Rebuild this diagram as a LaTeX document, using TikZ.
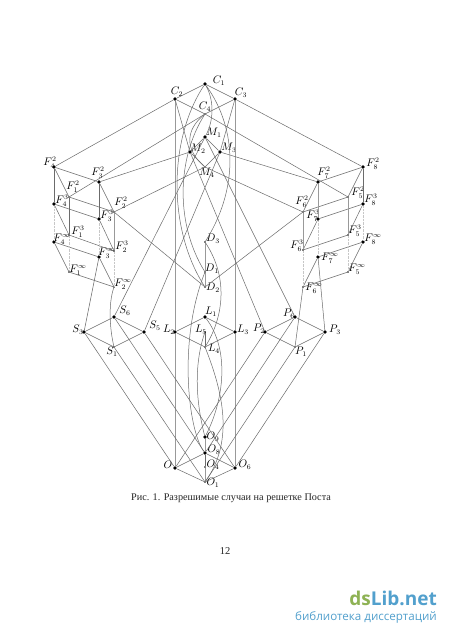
\documentclass[tikz,border=0pt]{standalone}
\usepackage{fontspec}
\newfontfamily\capfont{Liberation Serif}
\newfontfamily\logofont{Open Sans}
\definecolor{logogreen}{RGB}{142,178,84}
\definecolor{logoblue}{RGB}{82,160,205}
\tikzset{
  bigdot/.style={circle,fill=black,inner sep=0pt,minimum size=3.8pt},
  smalldot/.style={circle,fill=black,inner sep=0pt,minimum size=1.6pt},
  lab/.style={inner sep=0pt,font=\fontsize{10.5}{12}\selectfont},
  thin line/.style={line width=.5pt,black!58},
  heavy/.style={line width=1pt,black!40},
  faint/.style={line width=.4pt,black!22,densely dotted},
}
\newcommand{\B}[6]{\node[bigdot] (#1) at (#2,#3) {}; \node[lab] (#1lab) at (#4,#5) {$#6$};}
\newcommand{\Sm}[6]{\node[smalldot] (#1) at (#2,#3) {}; \node[lab] (#1lab) at (#4,#5) {$#6$};}
\begin{document}
\begin{tikzpicture}[x=1pt,y=-1pt]
\useasboundingbox (0,0) rectangle (450,636);
\fill[white] (0,0) rectangle (450,636);
% nodes
\B{C1}{205}{84}{219}{81}{C_1}
\B{C2}{175}{99}{177}{92}{C_2}
\B{C3}{235}{99}{241}{93}{C_3}
\Sm{C4}{205}{114}{205}{107}{C_4}
\B{M1}{205}{137}{214}{133}{M_1}
\B{M2}{190}{152}{198}{149}{M_2}
\B{M3}{220}{152}{229}{148}{M_3}
\Sm{M4}{205}{167}{207}{173}{M_4}
% left F
\B{F42}{54}{167}{50}{163}{F_4^2}
\B{F32}{99}{182}{98}{173}{F_3^2}
\Sm{F12}{69}{197}{73}{187}{F_1^2}
\Sm{F22}{114}{212}{121}{203}{F_2^2}
\B{F43}{54}{204}{62}{201}{F_4^3}
\B{F33}{99}{219}{107}{216}{F_3^3}
\Sm{F13}{69}{235}{78}{232}{F_1^3}
\Sm{F23}{114}{251}{122}{247}{F_2^3}
\B{F4i}{54}{242}{62}{239}{F_4^\infty}
\B{F3i}{99}{257}{107}{253}{F_3^\infty}
\Sm{F1i}{69}{272}{78}{270}{F_1^\infty}
\Sm{F2i}{114}{287}{123}{284}{F_2^\infty}
% right F
\B{F82}{363}{167}{373}{164}{F_8^2}
\B{F72}{318}{182}{324}{173}{F_7^2}
\Sm{F52}{348}{197}{358}{193}{F_5^2}
\Sm{F62}{303}{212}{302}{202}{F_6^2}
\B{F83}{363}{204}{371}{200}{F_8^3}
\B{F73}{318}{219}{313}{216}{F_7^3}
\Sm{F53}{348}{235}{355}{231}{F_5^3}
\Sm{F63}{303}{250}{297}{246}{F_6^3}
\B{F8i}{363}{242}{373}{239}{F_8^\infty}
\B{F7i}{318}{257}{330}{258}{F_7^\infty}
\Sm{F5i}{348}{272}{357}{269}{F_5^\infty}
\Sm{F6i}{303}{287}{314}{288}{F_6^\infty}
% D
\Sm{D3}{205}{242}{213}{239}{D_3}
\Sm{D1}{205}{272}{212}{269}{D_1}
\Sm{D2}{205}{287}{213}{288}{D_2}
% S
\B{S6}{114}{317}{125}{311}{S_6}
\B{S3}{84}{332}{78}{330}{S_3}
\B{S5}{144}{332}{155}{326}{S_5}
\Sm{S1}{114}{347}{112}{352}{S_1}
% L
\B{L1}{205}{317}{211}{312}{L_1}
\B{L2}{175}{332}{169}{330}{L_2}
\B{L3}{235}{332}{243}{330}{L_3}
\Sm{L5}{205}{332}{201}{330}{L_5}
\Sm{L4}{205}{347}{214}{349}{L_4}
% P
\B{P6}{295}{317}{289}{314}{P_6}
\B{P2}{265}{332}{259}{329}{P_2}
\B{P3}{325}{332}{335}{330}{P_3}
\Sm{P1}{295}{347}{301}{352}{P_1}
% O
\B{O9}{205}{437}{213}{437}{O_9}
\B{O8}{205}{453}{214}{450}{O_8}
\Sm{O4}{205}{467}{213}{465}{O_4}
\B{O5}{175}{468}{168}{465}{O}
\B{O6}{235}{468}{245}{465}{O_6}
\Sm{O1}{205}{482}{213}{483}{O_1}
% square edges
\draw[thin line] (C1)--(C2) (C1)--(C3) (C2)--(C4) (C3)--(C4);
\draw[thin line] (M1)--(M2) (M1)--(M3) (M2)--(M4) (M3)--(M4);
\draw[thin line] (F42)--(F32) (F42)--(F12) (F32)--(F22) (F12)--(F22);
\draw[thin line] (F43)--(F33) (F43)--(F13) (F33)--(F23) (F13)--(F23);
\draw[thin line] (F4i)--(F3i) (F4i)--(F1i) (F3i)--(F2i) (F1i)--(F2i);
\draw[thin line] (F82)--(F72) (F82)--(F52) (F72)--(F62) (F52)--(F62);
\draw[thin line] (F83)--(F73) (F83)--(F53) (F73)--(F63) (F53)--(F63);
\draw[thin line] (F8i)--(F7i) (F8i)--(F5i) (F7i)--(F6i) (F5i)--(F6i);
\draw[thin line] (S6)--(S3) (S6)--(S5) (S3)--(S1) (S5)--(S1);
\draw[thin line] (L1)--(L2) (L1)--(L3) (L2)--(L4) (L3)--(L4);
\draw[thin line] (P6)--(P2) (P6)--(P3) (P2)--(P1) (P3)--(P1);
\draw[thin line] (O8)--(O5) (O8)--(O6) (O5)--(O1) (O6)--(O1);
% verticals
\draw[thin line] (F42)--(F43) (F12)--(F13) (F32)--(F33) (F82)--(F83);
\draw[heavy] (F22)--(F23) (F72)--(F73) (F52)--(F53) (F62)--(F63);
\draw[faint] (F43)--(F4i) (F13)--(F1i) (F33)--(F3i) (F23)--(F2i);
\draw[faint] (F83)--(F8i) (F73)--(F7i) (F53)--(F5i) (F63)--(F6i);
\draw[heavy] (C2)--(L2) (L2)--(O5) (C3)--(L3) (L3)--(O6);
\draw[heavy] (D3)--(D1) (D1)--(D2) (O9)--(O8) (O4)--(O1);
\draw[thin line] (L5)--(L4) (O8)--(O4);
% long lines
\draw[thin line] (C2)--(F42) (C3)--(F82) (C4)--(F12) (C4)--(F52);
\draw[thin line] (M2)--(F32) (M3)--(F72) (M4)--(F22) (M4)--(F62);
\draw[thin line] (F22)--(D2) (F62)--(D2);
\draw[thin line] (C2)--(M2) (C3)--(M3);
\draw[thin line] (M1)--(S6) (M1)--(P6) (M3)--(S5) (M2)--(P2);
\draw[thin line] (F3i)--(S3) (F7i)--(P3) (F6i)--(P1);
\draw[thin line] (S3)--(O5) (S1)--(O1) (S6)--(O8) (S5)--(O6);
\draw[thin line] (P2)--(O5) (P1)--(O1) (P6)--(O8) (P3)--(O6);
% arcs
\draw[thin line] (C1) .. controls (214,100) and (214,120) .. (M1);
\draw[thin line] (C4) .. controls (185,130) and (185,150) .. (M4);
\draw[thin line] (C1) .. controls (238,130) and (238,190) .. (D3);
\draw[thin line] (C1) .. controls (168,140) and (168,230) .. (D2);
\draw[thin line] (C4) .. controls (176,160) and (176,225) .. (D1);
\draw[thin line] (D1) .. controls (178,340) and (188,430) .. (O8);
\draw[thin line] (D3) .. controls (230,280) and (222,320) .. (L4);
\draw[thin line] (L1) .. controls (230,350) and (224,400) .. (O9);
\draw[thin line] (L4) .. controls (222,390) and (235,440) .. (O1);
\draw[thin line] (L5) .. controls (192,370) and (198,410) .. (O9);
\draw[thin line] (F2i) .. controls (108,305) and (110,330) .. (S1);
% caption etc.
\node[inner sep=0pt,text=black!85,font=\capfont\fontsize{10.2}{12}\selectfont] (cap) at (231,498) {Рис. 1. Разрешимые случаи на решетке Поста};
\node[inner sep=0pt,text=black!85,font=\capfont\fontsize{10.5}{12}\selectfont] (pg) at (225,551) {12};
\node[inner sep=0pt,anchor=east,font=\logofont\bfseries\fontsize{19}{20}\selectfont] (logo) at (437,598) {\textcolor{logogreen}{ds}\textcolor{logoblue}{Lib.net}};
\node[inner sep=0pt,anchor=east,text=logoblue,font=\logofont\fontsize{11.6}{13}\selectfont] (sub) at (437,617) {библиотека диссертаций};
\end{tikzpicture}
\end{document}
